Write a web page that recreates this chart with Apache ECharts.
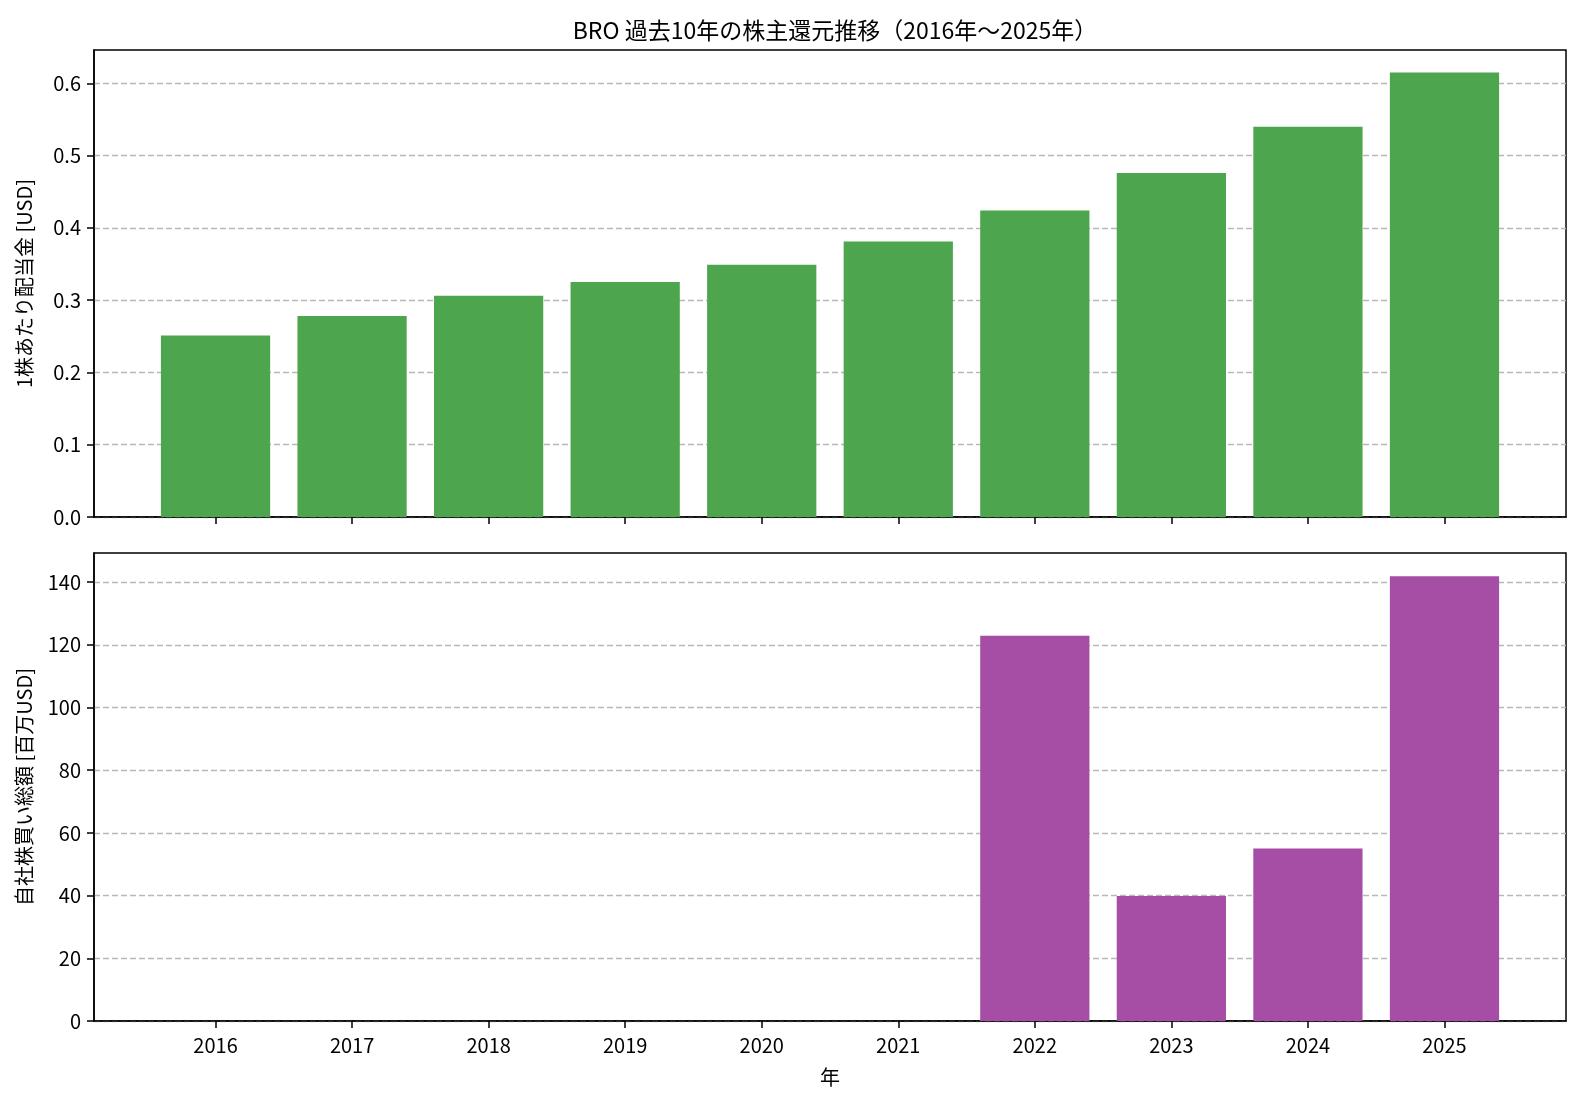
<!DOCTYPE html>
<html>
<head>
<meta charset="utf-8">
<script src="https://cdn.jsdelivr.net/npm/echarts@6/dist/echarts.min.js"></script>
<style>
  html, body { margin: 0; padding: 0; background: #fff; }
  #main { width: 1582px; height: 1102px; }
</style>
</head>
<body>
<div id="main"></div>
<script>
// data
var years = ["2016", "2017", "2018", "2019", "2020", "2021", "2022", "2023", "2024", "2025"];
var dividends = [0.251, 0.278, 0.306, 0.325, 0.349, 0.381, 0.424, 0.476, 0.540, 0.615];
var buybacks = [0, 0, 0, 0, 0, 0, 122.9, 39.9, 55.0, 141.9];
var dividendTicks = [0, 0.1, 0.2, 0.3, 0.4, 0.5, 0.6];
var buybackTicks = [0, 20, 40, 60, 80, 100, 120, 140];
var yearTicks = [0, 1, 2, 3, 4, 5, 6, 7, 8, 9];

var font = '"Noto Sans CJK JP", "Noto Sans", sans-serif';
var chartDom = document.getElementById("main");
var myChart = echarts.init(chartDom);
var option;

var gridLeft = 94, gridRight = 16;
var xMin = -0.89, xMax = 9.89;
var barWidth = ((myChart.getWidth() - gridLeft - gridRight) / (xMax - xMin)) * 0.8;

function pairs(arr) {
  return arr.map(function (v, i) { return [i, v]; });
}

function xAxisFor(gridIndex, showLabels) {
  return {
    type: "value",
    gridIndex: gridIndex,
    min: xMin,
    max: xMax,
    name: showLabels ? "年" : "",
    nameLocation: "middle",
    nameGap: 46,
    nameTextStyle: { fontFamily: font, fontSize: 20, color: "#000" },
    axisLine: { show: true, onZero: false, lineStyle: { color: "#000", width: 1.5 } },
    axisTick: { show: true, customValues: yearTicks, length: 7, lineStyle: { color: "#000", width: 1.5 } },
    axisLabel: {
      show: showLabels,
      customValues: yearTicks,
      margin: 14,
      fontFamily: font,
      fontSize: 20,
      color: "#000",
      formatter: function (v) { return years[v]; },
    },
    splitLine: { show: false },
  };
}

function yAxisFor(gridIndex, name, max, ticks, digits) {
  return {
    type: "value",
    gridIndex: gridIndex,
    min: 0,
    max: max,
    name: name,
    nameLocation: "middle",
    nameGap: 60,
    nameTextStyle: { fontFamily: font, fontSize: 20, color: "#000" },
    axisLine: { show: true, onZero: false, lineStyle: { color: "#000", width: 1.5 } },
    axisTick: { show: true, customValues: ticks, length: 7, lineStyle: { color: "#000", width: 1.5 } },
    axisLabel: {
      customValues: ticks,
      margin: 13,
      fontFamily: font,
      fontSize: 20,
      color: "#000",
      formatter: function (v) { return v.toFixed(digits); },
    },
    splitLine: {
      show: true,
      customValues: ticks,
      lineStyle: { color: "#b8b8b8", width: 1.3, type: [6, 3] },
    },
  };
}

option = {
  animation: false,
  title: {
    text: "BRO 過去10年の株主還元推移（2016年～2025年）",
    left: 830,
    textAlign: "center",
    top: 14,
    textStyle: { fontFamily: font, fontSize: 23, fontWeight: "normal", color: "#000" },
  },
  grid: [
    { left: gridLeft, right: gridRight, top: 50, height: 467, show: true, borderColor: "#000", borderWidth: 1.5 },
    { left: gridLeft, right: gridRight, top: 553, height: 468, show: true, borderColor: "#000", borderWidth: 1.5 },
  ],
  xAxis: [xAxisFor(0, false), xAxisFor(1, true)],
  yAxis: [
    yAxisFor(0, "1株あたり配当金 [USD]", 0.646, dividendTicks, 1),
    yAxisFor(1, "自社株買い総額 [百万USD]", 149.3, buybackTicks, 0),
  ],
  series: [
    {
      name: "配当金",
      type: "bar",
      xAxisIndex: 0,
      yAxisIndex: 0,
      barWidth: barWidth,
      itemStyle: { color: "#4da64d" },
      data: pairs(dividends),
    },
    {
      name: "自社株買い",
      type: "bar",
      xAxisIndex: 1,
      yAxisIndex: 1,
      barWidth: barWidth,
      itemStyle: { color: "#a64da6" },
      data: pairs(buybacks),
    },
  ],
};

option && myChart.setOption(option);
</script>
</body>
</html>
